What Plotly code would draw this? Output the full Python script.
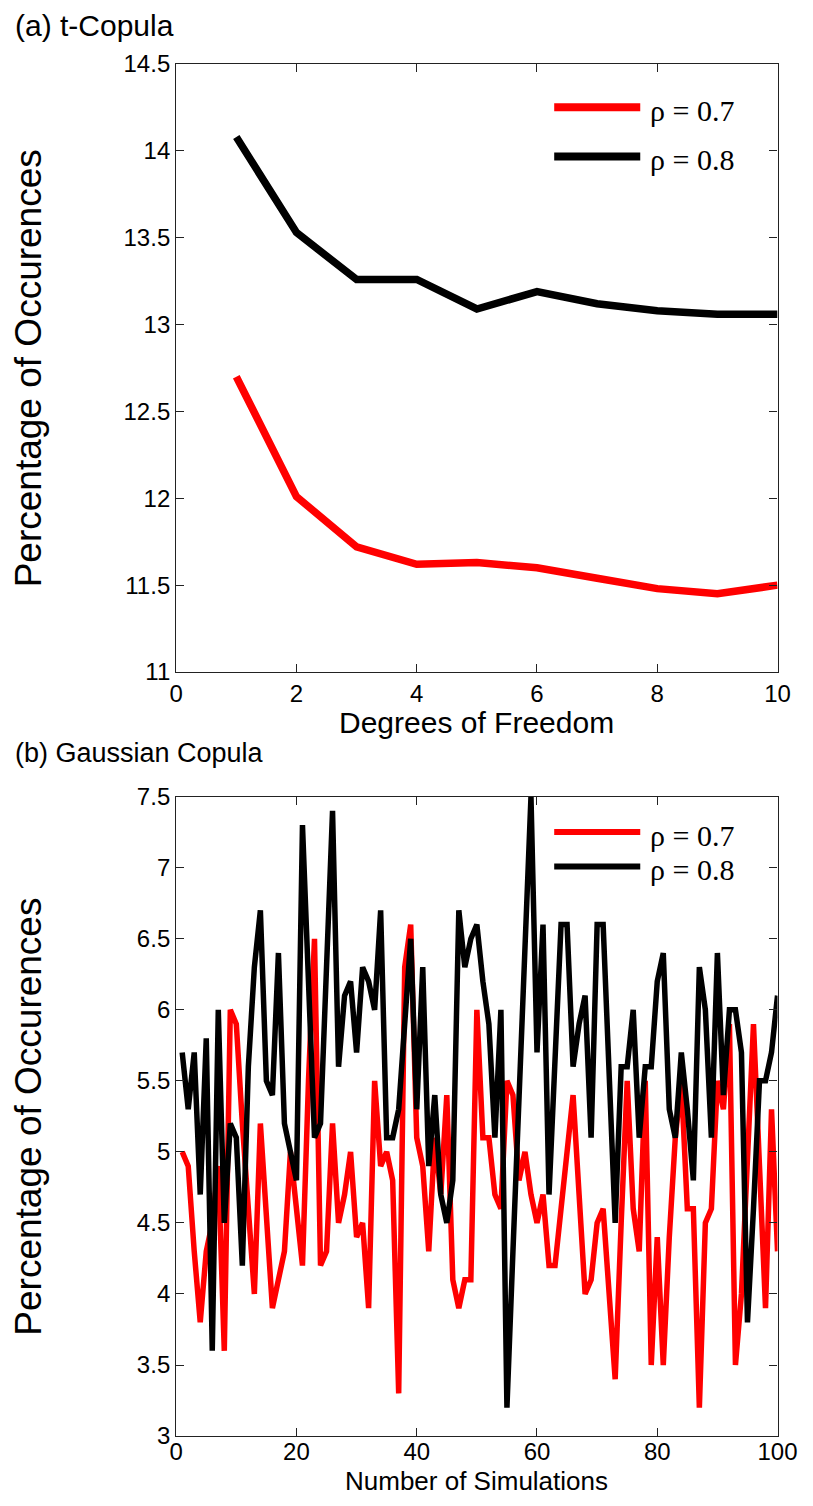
import plotly.graph_objects as go

# ---------------- data ----------------
dof = [1, 2, 3, 4, 5, 6, 7, 8, 9, 10]
t_rho07 = [12.70, 12.01, 11.72, 11.62, 11.63, 11.60, 11.54, 11.48, 11.45, 11.50]
t_rho08 = [14.08, 13.53, 13.26, 13.26, 13.09, 13.19, 13.12, 13.08, 13.06, 13.06]

sims = list(range(1, 101))
g_rho07 = [5.0, 4.9, 4.3, 3.8, 4.3, 4.5, 4.9, 3.6, 6.0, 5.9,
           5.2, 4.6, 4.0, 5.2, 4.6, 3.9, 4.1, 4.3, 5.0, 4.6,
           4.2, 5.5, 6.5, 4.2, 4.3, 5.2, 4.5, 4.7, 5.0, 4.4,
           4.5, 3.9, 5.5, 4.9, 5.0, 4.8, 3.3, 6.3, 6.6, 5.1,
           4.9, 4.3, 5.1, 4.7, 5.4, 4.1, 3.9, 4.1, 4.1, 6.0,
           5.1, 5.1, 4.7, 4.6, 5.5, 5.4, 4.8, 5.0, 4.7, 4.5,
           4.7, 4.2, 4.2, 4.6, 5.0, 5.4, 4.7, 4.0, 4.1, 4.5,
           4.6, 4.0, 3.4, 4.5, 5.5, 4.6, 4.3, 5.5, 3.5, 4.4,
           3.5, 4.4, 5.1, 5.5, 4.6, 4.6, 3.2, 4.5, 4.6, 5.5,
           5.3, 5.9, 3.5, 4.0, 5.0, 5.9, 4.9, 3.9, 5.3, 4.3]
g_rho08 = [5.7, 5.3, 5.7, 4.7, 5.8, 3.6, 6.0, 4.5, 5.2, 5.1,
           4.2, 5.6, 6.3, 6.7, 5.5, 5.4, 6.4, 5.2, 5.0, 4.8,
           7.3, 6.2, 5.1, 5.2, 6.3, 7.4, 5.6, 6.1, 6.2, 5.7,
           6.3, 6.2, 6.0, 6.7, 5.1, 5.1, 5.3, 5.9, 6.5, 5.3,
           6.3, 4.9, 5.4, 4.7, 4.5, 4.8, 6.7, 6.3, 6.5, 6.6,
           6.2, 5.9, 5.1, 6.0, 3.2, 4.3, 5.4, 6.4, 7.5, 5.7,
           6.6, 4.7, 5.6, 6.6, 6.6, 5.6, 5.9, 6.1, 5.1, 6.6,
           6.6, 5.5, 4.5, 5.6, 5.6, 6.0, 5.1, 5.6, 5.6, 6.2,
           6.4, 5.3, 5.1, 5.7, 5.3, 4.8, 6.3, 6.0, 5.1, 6.4,
           5.4, 6.0, 6.0, 5.7, 3.8, 4.6, 5.5, 5.5, 5.7, 6.1]

series_names = ["ρ = 0.7", "ρ = 0.8"]
series_colors = ["#ff0000", "#000000"]

# ---------------- layout geometry (pixels) ----------------
W, H = 813, 1506
L, R = 175, 797
T1, B1 = 51, 670
T2, B2 = 797, 1448


def fx(p):
    return p / W


def fy(p):
    return 1 - p / H


SANS = "Liberation Sans, Arial, sans-serif"
SERIF = "Liberation Serif, Times New Roman, serif"

fig = go.Figure()

for vals, name, col in zip([t_rho07, t_rho08], series_names, series_colors):
    fig.add_trace(go.Scatter(x=dof, y=vals, mode="lines", name=name,
                             line=dict(color=col, width=7.5),
                             xaxis="x", yaxis="y", showlegend=False))
for vals, name, col in zip([g_rho07, g_rho08], series_names, series_colors):
    fig.add_trace(go.Scatter(x=sims, y=vals, mode="lines", name=name,
                             line=dict(color=col, width=5.5),
                             xaxis="x2", yaxis="y2", showlegend=False))

axis_common = dict(showline=True, linecolor="#222", linewidth=1.3, mirror="allticks",
                   ticks="inside", ticklen=8, tickcolor="#222", showgrid=False,
                   zeroline=False, tickfont=dict(family=SANS, size=24, color="#000"))

fig.update_layout(
    width=W, height=H,
    margin=dict(l=0, r=0, t=0, b=0),
    paper_bgcolor="white", plot_bgcolor="white",
    xaxis=dict(domain=[fx(L), fx(R)], range=[0, 10], dtick=2, anchor="y", **axis_common),
    yaxis=dict(domain=[fy(B1), fy(T1)], range=[11, 14.5], dtick=0.5, anchor="x", **axis_common),
    xaxis2=dict(domain=[fx(L), fx(R)], range=[0, 100], dtick=20, anchor="y2",
                ticklabelstandoff=-6, **axis_common),
    yaxis2=dict(domain=[fy(B2), fy(T2)], range=[3, 7.5], dtick=0.5, anchor="x2", **axis_common),
)

ann = []
ann.append(dict(text="(a) t-Copula", x=fx(6), y=fy(12), xanchor="left", yanchor="middle",
                font=dict(family=SANS, size=30, color="#000")))
ann.append(dict(text="(b) Gaussian Copula", x=fx(6), y=fy(752), xanchor="left", yanchor="middle",
                font=dict(family=SANS, size=27, color="#000")))
for (t, b) in [(T1, B1), (T2, B2)]:
    ann.append(dict(text="Percentage of Occurences", x=fx(22), y=fy((t + b) / 2), textangle=-90,
                    xanchor="center", yanchor="middle",
                    font=dict(family=SANS, size=37, color="#000")))
ann.append(dict(text="Degrees of Freedom", x=fx((L + R) / 2), y=fy(721), xanchor="center",
                yanchor="middle", font=dict(family=SANS, size=30, color="#000")))
ann.append(dict(text="Number of Simulations", x=fx((L + R) / 2), y=fy(1494), xanchor="center",
                yanchor="middle", font=dict(family=SANS, size=26, color="#000")))

shapes = []
legend_rows = [
    (95, 145, 8),    # top panel: row y for red, black, line width
    (833, 868, 6),   # bottom panel
]
for (y_red, y_blk, lw) in legend_rows:
    for yy, name, col in zip([y_red, y_blk], series_names, series_colors):
        shapes.append(dict(type="line", xref="paper", yref="paper",
                           x0=fx(566), x1=fx(655), y0=fy(yy), y1=fy(yy),
                           line=dict(color=col, width=lw)))
        ann.append(dict(text=name, x=fx(663), y=fy(yy + 3),
                        xanchor="left", yanchor="middle",
                        font=dict(family=SERIF, size=30, color="#000")))

for a in ann:
    a.update(xref="paper", yref="paper", showarrow=False)
fig.update_layout(annotations=ann, shapes=shapes)

fig.write_html("out.html")
